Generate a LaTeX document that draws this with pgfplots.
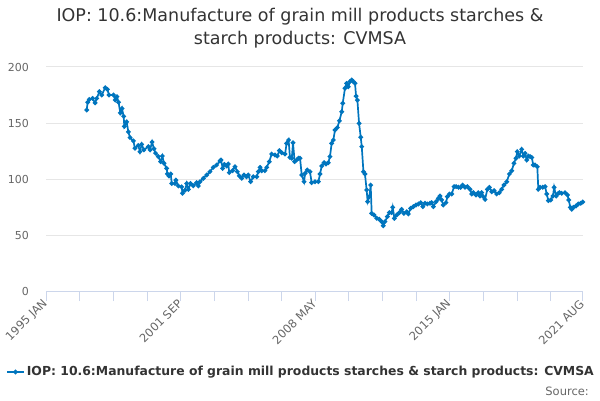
\documentclass[border=0pt]{standalone}
\usepackage{pgfplots}
\pgfplotsset{compat=1.18}
\usepackage{pgfplotstable}
\usepackage{fontspec}
\setmainfont{DejaVu Sans}
\definecolor{series}{RGB}{0,117,190}
\definecolor{titlecol}{HTML}{333333}
\definecolor{labcol}{HTML}{666666}
\definecolor{axiscol}{HTML}{CCD6EB}
\definecolor{gridcol}{HTML}{E6E6E6}
\pgfplotstableread{
m v
24.0 161.6
24.6 168.5
25.6 171
27.5 172
29 168
30 172
31.6 178
33 175
35 181.5
36.3 180
37.3 175
40 175
41 170.5
42 173.5
43 168.5
44 159
45 163
46 156
46.4 147
47.8 151
48.8 142
49.8 137
51.8 134
52.7 127.4
54.7 130
55.7 124.4
56.7 131
58 126
60.7 129
61.7 126
62.9 133
64 127
65 123
66.6 120
68 115.5
69 120.5
70 114
71.6 109.5
72 104.5
73 102.7
74 104.5
74.6 96
76.5 96
77.1 99
78.5 93.8
80.5 93
81 87.2
82.5 90
83.5 96
84.5 90.8
85.8 96
87.4 94
89.4 96.7
90.4 93.8
91.4 97.6
93.4 100.6
95.4 103.6
97.3 106.5
99.3 110.4
101.3 112.5
103.3 116
103.9 117
104.9 109.5
105.9 113
107.3 111.6
108.2 113.4
108.8 105.7
110.8 107.4
112.2 111
113.6 106.5
114.8 102.7
116.2 100.6
117.6 103.6
119.1 102
120.1 103.6
121.5 97.6
123.1 102
125.1 102
126.1 106.5
127.1 110.4
128.1 107.4
130 107.4
131.1 110.4
132.6 115.5
134 122.3
136 121.4
137.4 120.5
138.6 125.3
140 123.5
142 122.3
142.9 131.8
144.1 134.8
144.9 119.3
146 118.5
146.7 132.4
147.7 115.5
148.9 117
150 118.5
150.9 118.5
151.9 103.6
153.3 97.6
153.9 105
155.2 108
156.8 106.5
157.8 96.7
159.8 97.6
161.8 97.6
162.8 104.5
163.8 111.6
165.2 114.6
166.3 113.4
167.7 114.6
168.7 120
169.7 131.8
170.7 134.8
171.7 143.8
173.1 146
174.3 152
175.7 160
176.3 167.6
177.6 181
178.6 185.4
179.6 182.4
180.6 187
181.6 188.4
182.6 187
183.6 185.4
184.2 174
185 170.5
186 149.7
187 137.2
187.6 128.9
188.6 106.5
189.5 104.5
190.5 90.2
191.1 79.8
192.1 84.2
192.9 94.6
193.5 69.3
194.9 67.9
196.5 64.9
198 64
199.4 61.9
200.4 58.3
201.4 61.9
202.8 66.4
204 70
205.4 70
206 74.7
207 64.9
208.4 67.9
210 70
211.3 72.9
212.7 69.3
214.3 70.8
215.3 68.8
216.7 73.8
218.3 75.3
219.9 76.8
221.3 77.7
222.7 78.9
223.9 75.3
225.2 78.3
226.6 77.7
228.2 78.3
229.2 78.9
230.2 75.3
231.8 79.8
233.2 82.7
234.1 84.8
235.1 81.3
236.1 76.8
237.7 78.9
238.5 84.2
239.7 86.6
241.1 86.6
242.5 93.2
243.7 93.2
245.1 92.6
246.4 92.6
247.6 94.6
249 92.6
250.4 93.2
252 90.8
253 86.6
254 87.8
255.5 85.7
256.9 87.8
257.9 84.8
258.9 87.8
259.9 84.2
260.9 81.8
262.3 90.8
263.5 92.6
264.9 88.7
266.3 89.6
267.8 86.6
269.4 87.8
270.8 90.8
272.2 94.6
273.8 97.6
275.4 104.5
276.8 107.4
278.1 114
279.3 118.5
280.1 124.4
281.3 120.5
282.7 126.5
283.7 120.5
284.7 122.9
285.7 117
286.7 120.5
287.7 120
288.7 119.3
289.6 112.5
290.6 112.5
292 111
292.6 90.8
293.6 92.6
295.2 92.6
296.6 93.2
297.6 86.6
298.6 80.7
300 81.3
301.3 84.8
302 92.6
303.2 84.8
304 86.6
305.1 87.8
306.5 87.2
308.5 87.8
310 85.7
310.7 81.3
311.6 74.7
312.5 72.9
313.5 74.7
315 75.9
316.4 77.7
317.8 78.3
319 79.5
}\datatable
\begin{document}
\begin{tikzpicture}[x=1bp,y=1bp]
\path[use as bounding box] (0,0) rectangle (600,400);
\begin{axis}[
  at={(46.3bp,109bp)}, anchor=south west,
  scale only axis, width=536.4bp, height=224bp,
  xmin=0, xmax=319, ymin=0, ymax=200,
  axis x line*=bottom, axis y line*=left,
  x axis line style={draw=axiscol, line width=1bp},
  y axis line style={draw=none},
  xtick={0,20,40,60,80,100,120,140,160,180,200,220,240,260,280,300,319},
  xticklabels={1995 JAN,,,,2001 SEP,,,,2008 MAY,,,,2015 JAN,,,,2021 AUG},
  xtick style={draw=axiscol, line width=1bp},
  major tick length=10bp, tick align=outside,
  ytick={0,50,100,150,200},
  ytick style={draw=none},
  ymajorgrids, grid style={gridcol, line width=1bp},
  /pgf/number format/assume math mode=true,
  ticklabel style={font=\fontsize{11bp}{13bp}\selectfont, text=labcol},
  xticklabel style={rotate=45, anchor=east, inner sep=1bp, font=\fontsize{11.5bp}{13bp}\selectfont},
  yticklabel style={xshift=-4bp},
  legend style={at={(0.4748,-0.3616)}, anchor=center, draw=none, fill=none,
    font=\bfseries\fontsize{12.4bp}{14bp}\selectfont, text=titlecol,
    legend cell align=left, inner sep=0pt},
  clip=false,
]
\addplot[color=series, line width=1.7bp, mark=*, mark size=1.4bp] table[x=m,y=v] {\datatable};
\addlegendentry{IOP: 10.6:Manufacture of grain mill products starches \& starch products: CVMSA}
\end{axis}
\node[text=titlecol, font=\fontsize{17.5bp}{20bp}\selectfont] at (300,383) {IOP: 10.6:Manufacture of grain mill products starches \&};
\node[text=titlecol, font=\fontsize{17.5bp}{20bp}\selectfont] at (300,360) {starch products: CVMSA};
\node[text=labcol, font=\fontsize{11.5bp}{13bp}\selectfont, anchor=east, inner sep=0pt] at (589,9) {Source:};
\end{tikzpicture}
\end{document}
